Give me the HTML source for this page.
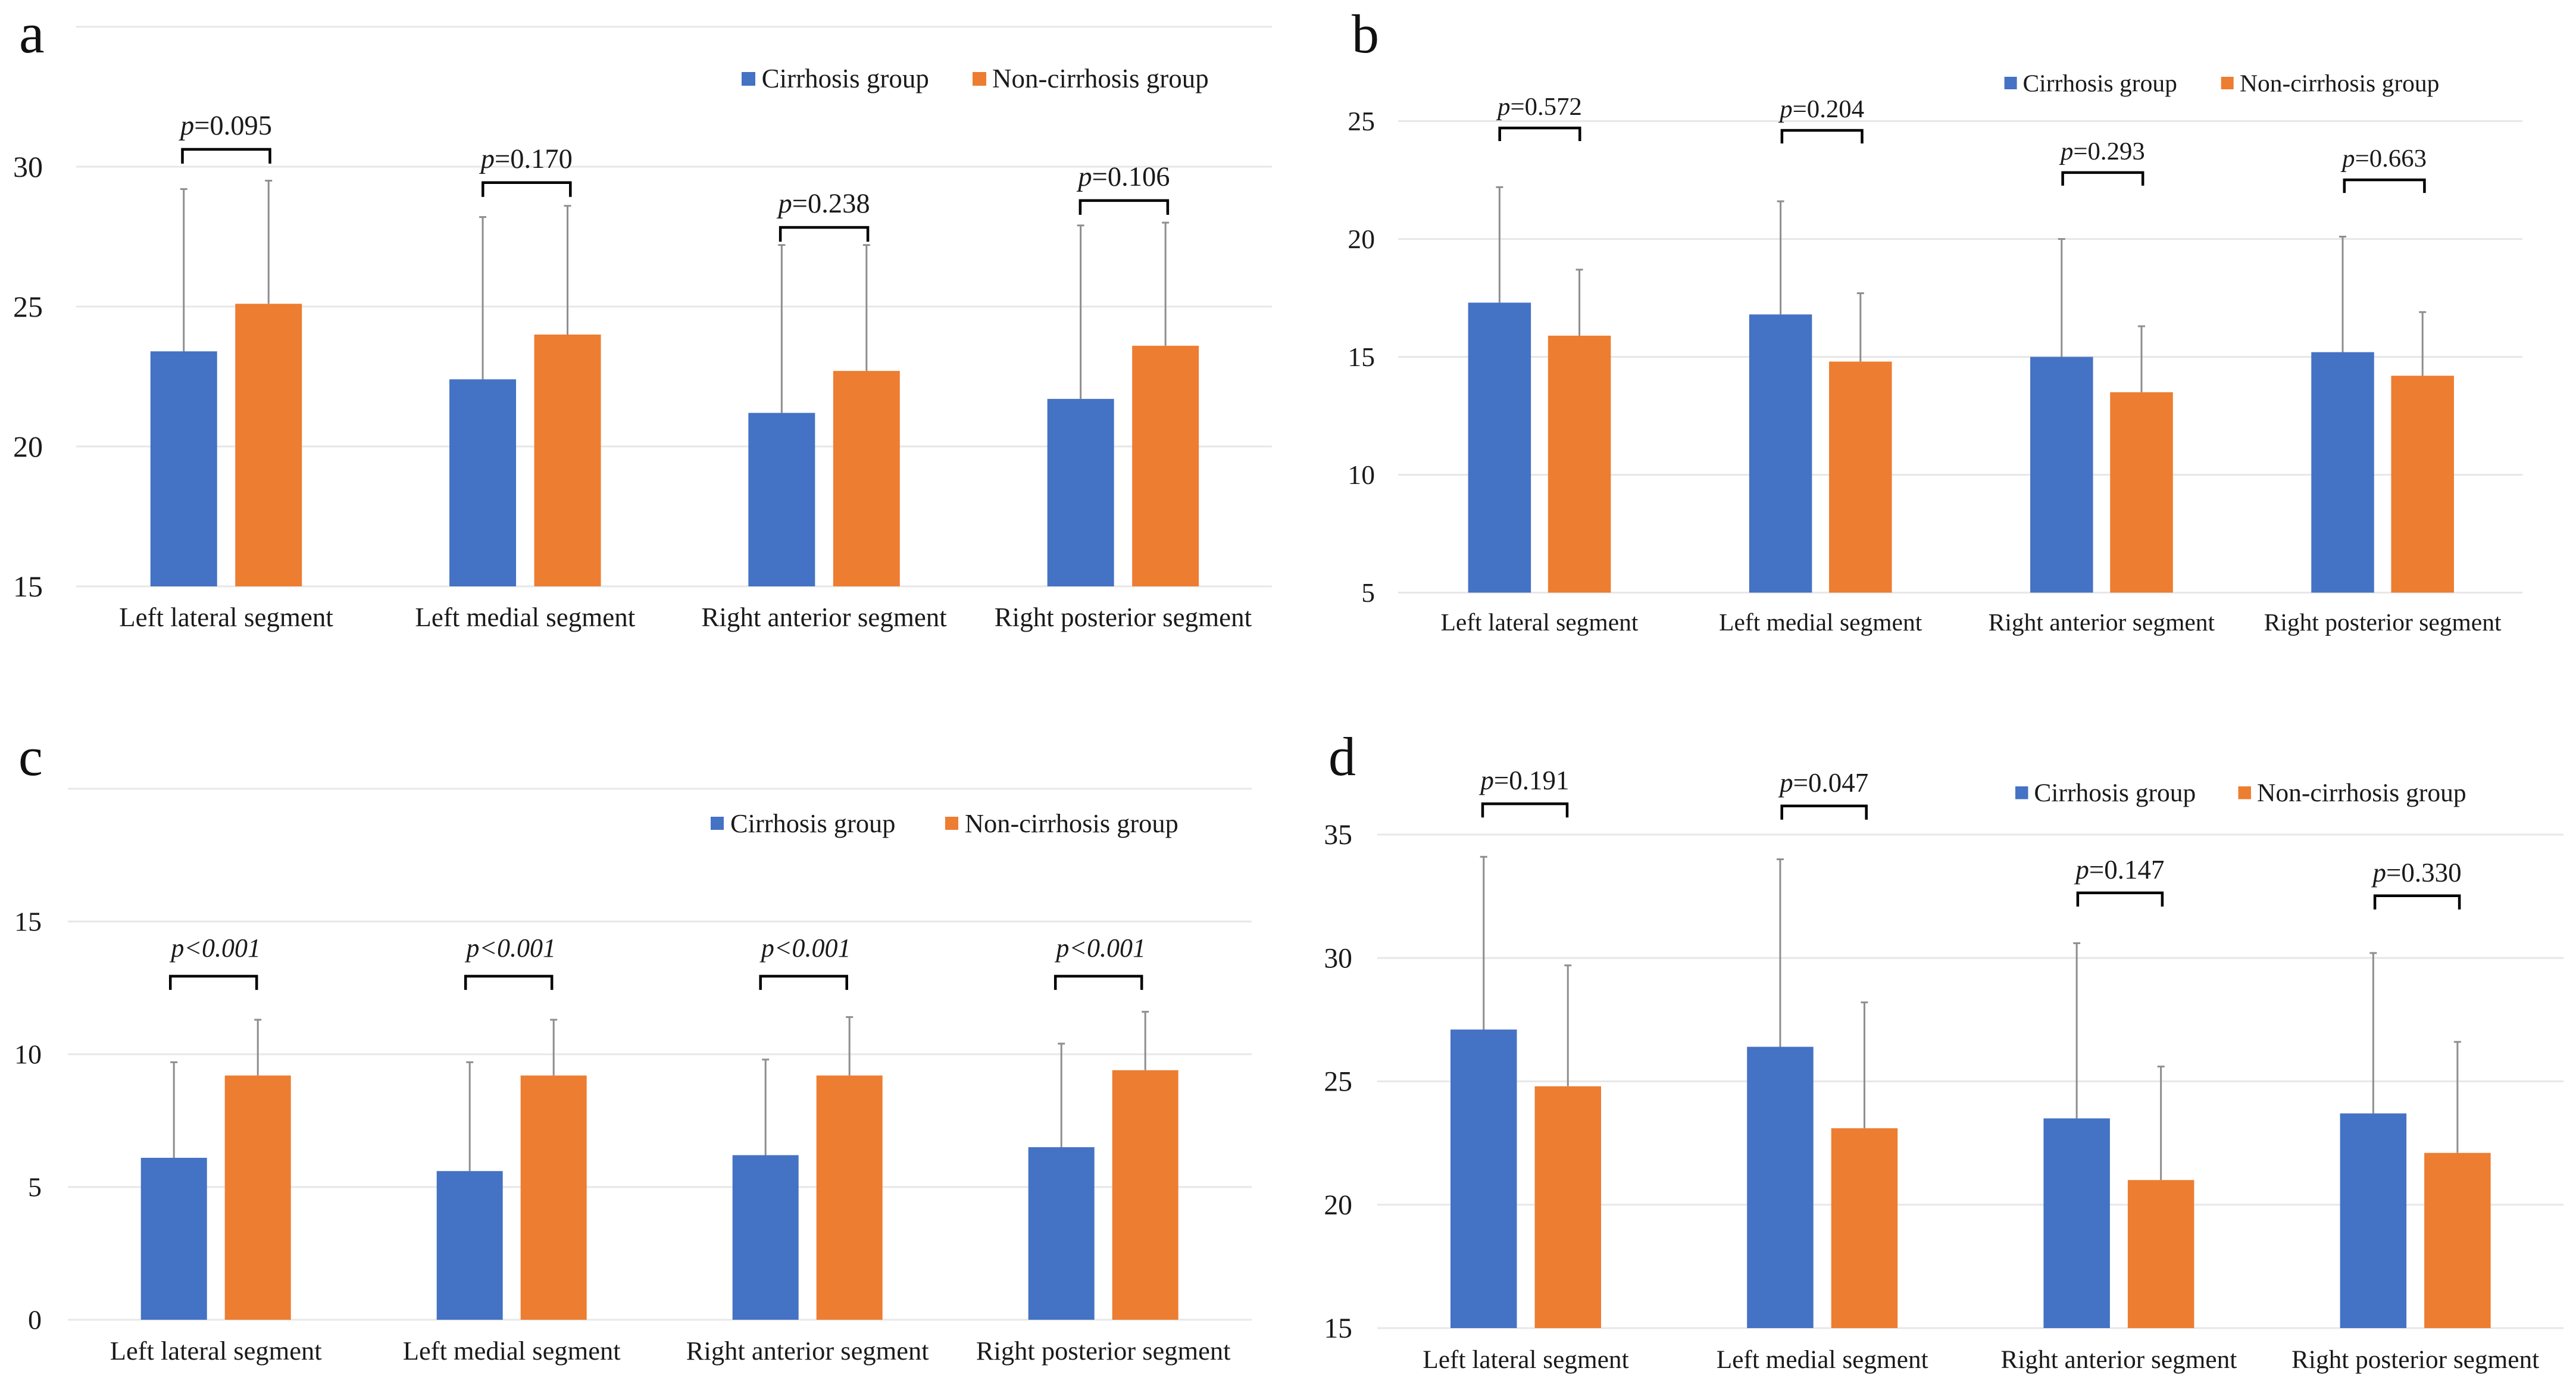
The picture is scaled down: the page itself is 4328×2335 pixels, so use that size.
<!DOCTYPE html>
<html lang="en">
<head>
<meta charset="utf-8">
<title>Segment comparison between cirrhosis and non-cirrhosis groups</title>
<style>
html,body{margin:0;padding:0;background:#fff;width:4328px;height:2335px;overflow:hidden}
svg{display:block}
text{font-family:"Liberation Serif","Times New Roman",serif;fill:#1a1a1a}
</style>
</head>
<body>
<svg id="figure" xmlns="http://www.w3.org/2000/svg" width="4328" height="2335" viewBox="0 0 4328 2335"></svg>
<script>
const categories = ['Left lateral segment', 'Left medial segment', 'Right anterior segment', 'Right posterior segment'];
const seriesNames = ['Cirrhosis group', 'Non-cirrhosis group'];

const aGridValues = [15, 20, 25, 30, 35];
const aTickLabels = ['15', '20', '25', '30'];
const aCirrhosis = [23.4, 22.4, 21.2, 21.7];
const aNonCirrhosis = [25.1, 24.0, 22.7, 23.6];
const aCirrhosisUpper = [29.2, 28.2, 27.2, 27.9];
const aNonCirrhosisUpper = [29.5, 28.6, 27.2, 28.0];
const aPValues = ['=0.095', '=0.170', '=0.238', '=0.106'];
const aBracketLevels = [30.62, 29.43, 27.83, 28.79];

const bGridValues = [5, 10, 15, 20, 25];
const bTickLabels = ['5', '10', '15', '20', '25'];
const bCirrhosis = [17.3, 16.8, 15.0, 15.2];
const bNonCirrhosis = [15.9, 14.8, 13.5, 14.2];
const bCirrhosisUpper = [22.2, 21.6, 20.0, 20.1];
const bNonCirrhosisUpper = [18.7, 17.7, 16.3, 16.9];
const bPValues = ['=0.572', '=0.204', '=0.293', '=0.663'];
const bBracketLevels = [24.71, 24.61, 22.82, 22.51];

const cGridValues = [0, 5, 10, 15, 20];
const cTickLabels = ['0', '5', '10', '15'];
const cCirrhosis = [6.1, 5.6, 6.2, 6.5];
const cNonCirrhosis = [9.2, 9.2, 9.2, 9.4];
const cCirrhosisUpper = [9.7, 9.7, 9.8, 10.4];
const cNonCirrhosisUpper = [11.3, 11.3, 11.4, 11.6];
const cPValues = ['<0.001', '<0.001', '<0.001', '<0.001'];
const cBracketLevels = [12.94, 12.94, 12.94, 12.94];

const dGridValues = [15, 20, 25, 30, 35];
const dTickLabels = ['15', '20', '25', '30', '35'];
const dCirrhosis = [27.1, 26.4, 23.5, 23.7];
const dNonCirrhosis = [24.8, 23.1, 21.0, 22.1];
const dCirrhosisUpper = [34.1, 34.0, 30.6, 30.2];
const dNonCirrhosisUpper = [29.7, 28.2, 25.6, 26.6];
const dPValues = ['=0.191', '=0.047', '=0.147', '=0.330'];
const dBracketLevels = [36.25, 36.16, 32.64, 32.52];

const BLUE = '#4472c4';
const ORANGE = '#ed7d31';
const GRID = '#e7e7e7';
const WHISKER = '#8e8e8e';

const panels = [
  { id: 'a', letterX: 32, letterY: 88, letterSize: 96,
    gridLeft: 128, gridRight: 2137, base: 985, unit: 47, cat0: 380, pitch: 502.3,
    barW: 112, barGap: 30.5, tickRight: 72, tickSize: 50, catY: 1052, catSize: 45,
    pSize: 46.5, pGap: 25, pNudge: 0, pAllItalic: false, brHalf: 73.5, brH: 24,
    brShift: [0, 2.5, 0, 1.5],
    legY: 121, legText: 147, legSize: 45, legSw: 23, legX: [1246, 1634], legTx: [1279.6, 1667],
    grid: aGridValues, ticks: aTickLabels, s1: aCirrhosis, s2: aNonCirrhosis, u1: aCirrhosisUpper, u2: aNonCirrhosisUpper, p: aPValues, br: aBracketLevels },
  { id: 'b', letterX: 2271, letterY: 88, letterSize: 92,
    gridLeft: 2349, gridRight: 4238, base: 995.5, unit: 39.6, cat0: 2586.5, pitch: 472.2,
    barW: 105.5, barGap: 28.7, tickRight: 2310, tickSize: 45.6, catY: 1059, catSize: 41.5,
    pSize: 42.8, pGap: 22, pNudge: 0, pAllItalic: false, brHalf: 67.3, brH: 22,
    brShift: [0.5, 2.5, 2, 3],
    legY: 129, legText: 153.6, legSize: 41.5, legSw: 21, legX: [3367.6, 3731.7], legTx: [3398.5, 3763],
    grid: bGridValues, ticks: bTickLabels, s1: bCirrhosis, s2: bNonCirrhosis, u1: bCirrhosisUpper, u2: bNonCirrhosisUpper, p: bPValues, br: bBracketLevels },
  { id: 'c', letterX: 31, letterY: 1302, letterSize: 92,
    gridLeft: 114, gridRight: 2103, base: 2217, unit: 44.6, cat0: 362.7, pitch: 497,
    barW: 111, barGap: 30, tickRight: 70, tickSize: 46, catY: 2284, catSize: 44.5,
    pSize: 44, pGap: 33, pNudge: 4, pAllItalic: true, brHalf: 72.5, brH: 23,
    brShift: [-4, -5, -6.5, -8],
    legY: 1372, legText: 1398, legSize: 44.4, legSw: 22, legX: [1194, 1588], legTx: [1227, 1621],
    grid: cGridValues, ticks: cTickLabels, s1: cCirrhosis, s2: cNonCirrhosis, u1: cCirrhosisUpper, u2: cNonCirrhosisUpper, p: cPValues, br: cBracketLevels },
  { id: 'd', letterX: 2232, letterY: 1302, letterSize: 92,
    gridLeft: 2314, gridRight: 4307, base: 2231, unit: 41.45, cat0: 2563.5, pitch: 498.2,
    barW: 111.5, barGap: 30, tickRight: 2272, tickSize: 47.7, catY: 2298, catSize: 43.3,
    pSize: 45, pGap: 24, pNudge: 0, pAllItalic: false, brHalf: 71, brH: 23,
    brShift: [-1.5, 3, 2, 3],
    legY: 1321, legText: 1346, legSize: 43.5, legSw: 21.5, legX: [3386, 3760.5], legTx: [3417.4, 3792],
    grid: dGridValues, ticks: dTickLabels, s1: dCirrhosis, s2: dNonCirrhosis, u1: dCirrhosisUpper, u2: dNonCirrhosisUpper, p: dPValues, br: dBracketLevels }
];

const NS = 'http://www.w3.org/2000/svg';
const root = document.getElementById('figure');

function make(parent, tag, props, content) {
  const el = document.createElementNS(NS, tag);
  for (const k in props) el.setAttribute(k, props[k]);
  if (content !== undefined) el.textContent = content;
  parent.appendChild(el);
  return el;
}

panels.forEach(function (P) {
  const domainMin = P.grid[0];
  const yScale = function (v) { return P.base - (v - domainMin) * P.unit; };
  const xCat = function (i) { return P.cat0 + i * P.pitch; };
  const xBar = function (i, s) { return xCat(i) + (s === 0 ? -1 : 1) * (P.barW + P.barGap) / 2; };

  const g = make(root, 'g', {});
  
  

  const letter = make(g, 'text', { x: P.letterX, y: P.letterY, 'font-size': P.letterSize, style: 'fill:#111' }, P.id);
  
  

  P.grid.forEach(function (v) {
    const line = make(g, 'line', { x1: P.gridLeft, x2: P.gridRight, y1: yScale(v), y2: yScale(v), stroke: GRID, 'stroke-width': 3 });
    
    
  });

  P.ticks.forEach(function (label) {
    const t = make(g, 'text', { x: P.tickRight, y: yScale(Number(label)) + P.tickSize * 0.34, 'font-size': P.tickSize, 'text-anchor': 'end' }, label);
    
    
  });

  categories.forEach(function (name, i) {
    [[P.s1, P.u1, BLUE], [P.s2, P.u2, ORANGE]].forEach(function (spec, s) {
      const cx = xBar(i, s);
      const top = yScale(spec[0][i]);
      const upper = yScale(spec[1][i]);

      const stem = make(g, 'line', { x1: cx, x2: cx, y1: top, y2: upper, stroke: WHISKER, 'stroke-width': 3 });
      
      

      const cap = make(g, 'line', { x1: cx - 6, x2: cx + 6, y1: upper, y2: upper, stroke: WHISKER, 'stroke-width': 3 });
      
      

      const bar = make(g, 'rect', { x: cx - P.barW / 2, y: top, width: P.barW, height: P.base - top, fill: spec[2] });
      
      
    });

    const brTop = yScale(P.br[i]);
    const brC = xCat(i) + P.brShift[i];
    const d = 'M' + (brC - P.brHalf) + ' ' + (brTop + P.brH) + 'V' + brTop + 'H' + (brC + P.brHalf) + 'V' + (brTop + P.brH);
    const br = make(g, 'path', { d: d, fill: 'none', stroke: '#000', 'stroke-width': 4.5 });
    
    

    const pt = make(g, 'text', { x: brC + P.pNudge, y: brTop - P.pGap, 'font-size': P.pSize, 'text-anchor': 'middle' });
    
    
    make(pt, 'tspan', { 'font-style': 'italic' }, 'p');
    make(pt, 'tspan', P.pAllItalic ? { 'font-style': 'italic' } : {}, P.p[i]);

    const cl = make(g, 'text', { x: xCat(i), y: P.catY, 'font-size': P.catSize, 'text-anchor': 'middle' }, name);
    
    
  });

  seriesNames.forEach(function (name, s) {
    const sw = make(g, 'rect', { x: P.legX[s], y: P.legY, width: P.legSw, height: P.legSw, fill: s === 0 ? BLUE : ORANGE });
    
    

    const lt = make(g, 'text', { x: P.legTx[s], y: P.legText, 'font-size': P.legSize }, name);
    
    
  });
});
</script>
</body>
</html>
